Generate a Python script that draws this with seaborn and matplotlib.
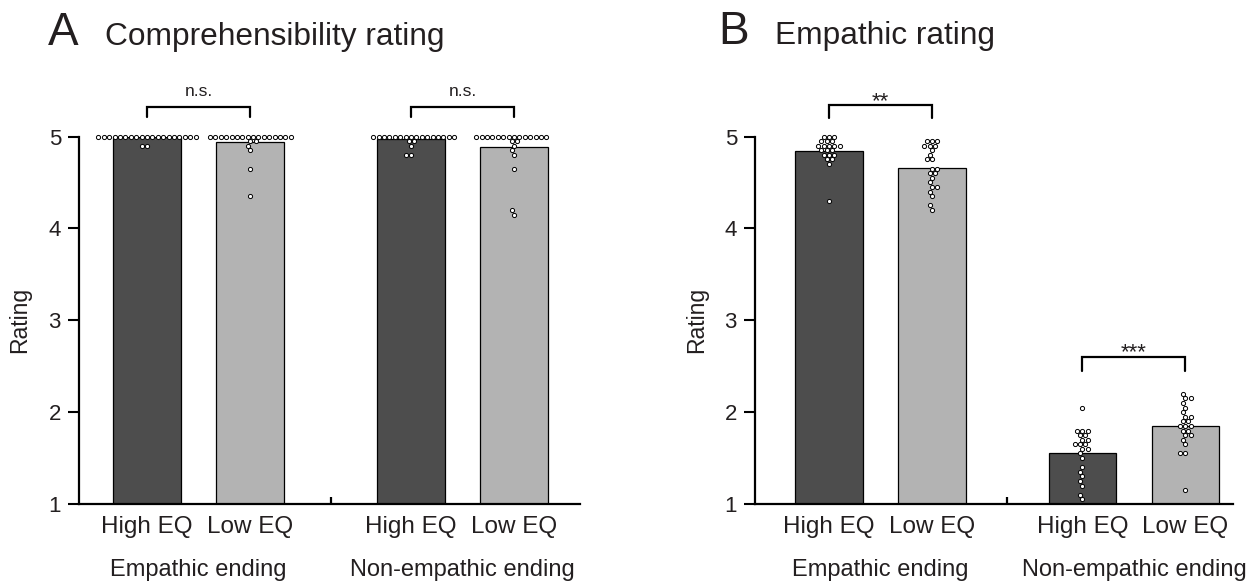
import numpy as np
import pandas as pd
import matplotlib
matplotlib.use("Agg")
import matplotlib.pyplot as plt
import matplotlib.transforms as mtransforms
import seaborn as sns

# ---------------- data ----------------
eq_levels = ["High EQ", "Low EQ"]
endings = ["Empathic ending", "Non-empathic ending"]
panel_letters = ["A", "B"]
panel_titles = ["Comprehensibility rating", "Empathic rating"]
y_ticks = [1, 2, 3, 4, 5]
y_label = "Rating"

# Panel A: comprehensibility rating (individual participants)
comp_high_emp = [5.0, 5.0, 5.0, 5.0, 5.0, 5.0, 5.0, 5.0, 5.0, 5.0, 5.0, 5.0, 5.0, 5.0,
                 5.0, 5.0, 5.0, 5.0, 5.0, 4.9, 4.9]
comp_low_emp = [5.0, 5.0, 5.0, 5.0, 5.0, 5.0, 5.0, 5.0, 5.0, 5.0, 5.0, 5.0, 5.0, 5.0,
                5.0, 5.0, 4.95, 4.95, 4.9, 4.85, 4.65, 4.35]
comp_high_non = [5.0, 5.0, 5.0, 5.0, 5.0, 5.0, 5.0, 5.0, 5.0, 5.0, 5.0, 5.0, 5.0, 5.0,
                 5.0, 5.0, 4.95, 4.95, 4.9, 4.8, 4.8]
comp_low_non = [5.0, 5.0, 5.0, 5.0, 5.0, 5.0, 5.0, 5.0, 5.0, 5.0, 5.0, 5.0, 5.0, 5.0,
                4.95, 4.95, 4.9, 4.85, 4.8, 4.65, 4.2, 4.15]

# Panel B: empathic rating (individual participants)
emp_high_emp = [5.0, 5.0, 5.0, 4.95, 4.95, 4.95, 4.9, 4.9, 4.9, 4.9, 4.9, 4.85, 4.85,
                4.85, 4.8, 4.8, 4.8, 4.75, 4.75, 4.7, 4.3]
emp_low_emp = [4.95, 4.95, 4.95, 4.9, 4.9, 4.9, 4.85, 4.8, 4.75, 4.75, 4.65, 4.65, 4.6,
               4.6, 4.55, 4.5, 4.45, 4.45, 4.4, 4.35, 4.25, 4.2]
emp_high_non = [2.05, 1.8, 1.8, 1.8, 1.75, 1.75, 1.7, 1.7, 1.65, 1.65, 1.65, 1.6, 1.6,
                1.55, 1.5, 1.4, 1.35, 1.3, 1.25, 1.2, 1.1, 1.05]
emp_low_non = [2.2, 2.15, 2.15, 2.1, 2.05, 2.0, 1.95, 1.95, 1.9, 1.9, 1.85, 1.85, 1.85,
               1.8, 1.8, 1.75, 1.75, 1.7, 1.65, 1.55, 1.55, 1.15]

sig_A = ["n.s.", "n.s."]
sig_B = ["**", "***"]

panels = [
    {"groups": [[comp_high_emp, comp_low_emp], [comp_high_non, comp_low_non]],
     "sig": sig_A},
    {"groups": [[emp_high_emp, emp_low_emp], [emp_high_non, emp_low_non]],
     "sig": sig_B},
]

# ---------------- style / layout ----------------
sns.set_theme(style="ticks")
plt.rcParams["font.family"] = ["Liberation Sans", "DejaVu Sans"]
TXT = "#231f20"
plt.rcParams["text.color"] = TXT
plt.rcParams["axes.labelcolor"] = TXT
plt.rcParams["xtick.color"] = "black"
plt.rcParams["ytick.color"] = "black"
plt.rcParams["xtick.labelcolor"] = TXT
plt.rcParams["ytick.labelcolor"] = TXT

W, H = 1255, 588
fig = plt.figure(figsize=(W / 100, H / 100), dpi=100)

palette = {"High EQ": "#4d4d4d", "Low EQ": "#b3b3b3"}
step = 0.75  # axis units between neighbouring bars within a group

layout = [
    dict(left=79, right=580, gap=2.56, xl=-0.66, xr=4.20, ylab_px=31,
         letter_x=48, title_x=105, base=45,
         brackets=[(5.207, 5.326, 0.12, 12.5), (5.207, 5.326, 0.12, 12.5)]),
    dict(left=755, right=1233, gap=2.46, xl=-0.718, xr=3.922, ylab_px=708,
         letter_x=718, title_x=775, base=44,
         brackets=[(5.196, 5.338, -0.02, 16), (2.453, 2.599, -0.015, 16)]),
]
ax_bottom_px, ax_top_px = 504, 136.5

for p, (panel, lay) in enumerate(zip(panels, layout)):
    rect = [lay["left"] / W, (H - ax_bottom_px) / H,
            (lay["right"] - lay["left"]) / W, (ax_bottom_px - ax_top_px) / H]
    ax = fig.add_axes(rect)

    rows = []
    positions = []
    for g, ending in enumerate(endings):
        for i, eq in enumerate(eq_levels):
            pos = (g * lay["gap"] + i) * step
            positions.append(pos)
            for v in panel["groups"][g][i]:
                rows.append({"pos": pos, "eq": eq, "ending": ending, "rating": v})
    df = pd.DataFrame(rows)

    sns.barplot(data=df, x="pos", y="rating", hue="eq", palette=palette,
                native_scale=True, errorbar=None, width=0.655, dodge=False,
                saturation=1, edgecolor="black", linewidth=0.9, legend=False,
                ax=ax)

    for pos in positions:
        sub = df[df["pos"] == pos]
        sns.swarmplot(x=sub["pos"].to_numpy(), y=sub["rating"].to_numpy(),
                      native_scale=True, orient="x", color="white",
                      edgecolor="black", linewidth=0.7, size=3.0, ax=ax,
                      zorder=3, clip_on=False)

    ax.set_xlim(lay["xl"] * step, lay["xr"] * step)
    ax.set_ylim(1, 5)
    sns.despine(ax=ax)
    for s in ["left", "bottom"]:
        ax.spines[s].set_linewidth(1.6)
        ax.spines[s].set_color("black")

    ax.set_xticks(positions, labels=eq_levels * 2)
    ax.tick_params(axis="x", which="major", length=0, pad=9, labelsize=17.5)
    mid = (positions[1] + positions[2]) / 2
    ax.set_xticks([mid], minor=True)
    ax.tick_params(axis="x", which="minor", direction="in", length=5, width=1.6)
    ax.set_yticks(y_ticks)
    ax.tick_params(axis="y", length=8, width=1.5, pad=5, labelsize=16)
    ax.set_xlabel("")
    ax.set_ylabel(y_label, fontsize=16.5)
    ax.yaxis.set_label_coords((lay["ylab_px"] - lay["left"]) / (lay["right"] - lay["left"]), 0.5)

    # group labels
    trans = mtransforms.blended_transform_factory(ax.transData, ax.transAxes)
    for g, ending in enumerate(endings):
        cx = (positions[2 * g] + positions[2 * g + 1]) / 2
        ax.text(cx, -72 / (ax_bottom_px - ax_top_px), ending, transform=trans,
                ha="center", va="baseline", fontsize=17)

    # significance brackets
    for g in range(2):
        x0, x1 = positions[2 * g], positions[2 * g + 1]
        lo, hi, toff, fs = lay["brackets"][g]
        ax.plot([x0, x0, x1, x1], [lo, hi, hi, lo], color="black", lw=1.6,
                clip_on=False, solid_joinstyle="miter", zorder=4)
        ax.text((x0 + x1) / 2, hi + toff, panel["sig"][g], ha="center",
                va="baseline", fontsize=fs)

    # panel titles
    fig.text(lay["letter_x"] / W, (H - lay["base"]) / H, panel_letters[p],
             fontsize=33, va="baseline", ha="left")
    fig.text(lay["title_x"] / W, (H - lay["base"]) / H, panel_titles[p],
             fontsize=22.8, va="baseline", ha="left")

fig.savefig("out.png", dpi=100)
